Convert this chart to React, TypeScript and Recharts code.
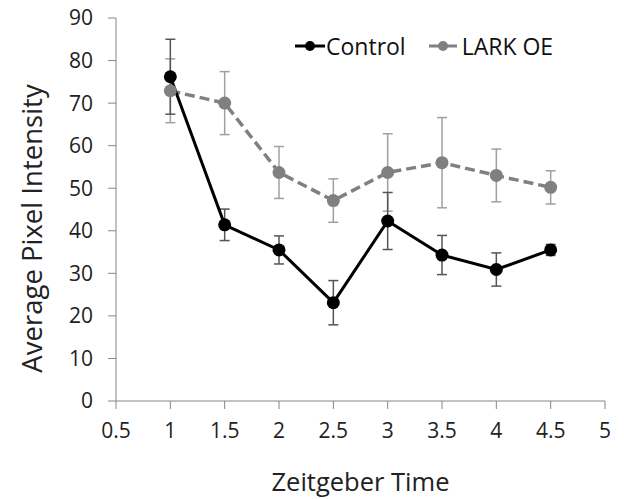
import React from 'react';
import {
  LineChart,
  Line,
  XAxis,
  YAxis,
  ErrorBar,
} from 'recharts';

const times = [1, 1.5, 2, 2.5, 3, 3.5, 4, 4.5];
const control = [76.2, 41.4, 35.5, 23.1, 42.3, 34.3, 30.9, 35.5];
const controlErr = [8.8, 3.7, 3.3, 5.2, 6.7, 4.6, 3.9, 1.3];
const lark = [72.9, 70.0, 53.7, 47.1, 53.7, 56.0, 53.0, 50.2];
const larkErr = [7.5, 7.4, 6.1, 5.1, 9.1, 10.6, 6.2, 3.9];

const xTicks = [0.5, 1, 1.5, 2, 2.5, 3, 3.5, 4, 4.5, 5];
const yTicks = [0, 10, 20, 30, 40, 50, 60, 70, 80, 90];

const data = times.map((t, i) => ({
  t,
  control: control[i],
  controlErr: controlErr[i],
  lark: lark[i],
  larkErr: larkErr[i],
}));

const FONT = '"Open Sans", sans-serif';
const AXIS = '#868686';

// legend drawn as an overlay so it doesn't shrink the plot area
const ChartLegend = () => (
  <div
    style={{
      position: 'absolute',
      left: 294,
      top: 30,
      display: 'flex',
      alignItems: 'center',
      fontFamily: FONT,
      fontSize: 23,
      color: '#111',
      whiteSpace: 'nowrap',
    }}
  >
    <svg width={32} height={14}>
      <line x1={1} y1={7} x2={31} y2={7} stroke="#000" strokeWidth={3} />
      <circle cx={16} cy={7} r={5} fill="#000" />
    </svg>
    <span style={{ marginRight: 22 }}>Control</span>
    <svg width={30} height={14}>
      <line x1={1} y1={7} x2={29} y2={7} stroke="#808080" strokeWidth={3} />
      <circle cx={15} cy={7} r={5} fill="#808080" />
    </svg>
    <span style={{ marginLeft: 4 }}>LARK OE</span>
  </div>
);

const YTitle = ({ viewBox }: any) => {
  const x = viewBox.x + 31;
  const y = viewBox.y + viewBox.height / 2 + 19;
  return (
    <text
      x={x}
      y={y}
      transform={`rotate(-90, ${x}, ${y})`}
      textAnchor="middle"
      dominantBaseline="central"
      fill="#222"
      fontSize={27.5}
      fontFamily={FONT}
    >
      Average Pixel Intensity
    </text>
  );
};

export default function App() {
  return (
    <div style={{ position: 'absolute', left: 0, top: 0, width: 624, height: 499, background: '#fff' }}>
      <LineChart width={624} height={499} data={data} margin={{ top: 18, right: 19, bottom: 0, left: 0 }}>
        <XAxis
          dataKey="t"
          type="number"
          domain={[0.5, 5]}
          ticks={xTicks}
          interval={0}
          height={98}
          stroke={AXIS}
          tickSize={8}
          tickMargin={14}
          tick={{ fill: '#222', fontSize: 21, fontFamily: FONT }}
          label={{ value: 'Zeitgeber  Time', position: 'insideBottom', offset: 8, style: { fill: '#222', fontSize: 25.5, fontFamily: FONT } }}
        />
        <YAxis
          type="number"
          domain={[0, 90]}
          ticks={yTicks}
          interval={0}
          width={116}
          stroke={AXIS}
          tickSize={8}
          tickMargin={15}
          tick={{ fill: '#222', fontSize: 21, fontFamily: FONT }}
          label={<YTitle />}
        />
        <Line
          dataKey="lark"
          stroke="#808080"
          strokeWidth={3.5}
          strokeDasharray="10 5"
          dot={{ r: 6.5, fill: '#808080', stroke: '#808080', strokeWidth: 0 }}
          isAnimationActive={false}
        >
          <ErrorBar dataKey="larkErr" direction="y" width={5} stroke="#a0a0a0" strokeWidth={1.5} />
        </Line>
        <Line
          dataKey="control"
          stroke="#000"
          strokeWidth={3}
          dot={{ r: 6.5, fill: '#000', stroke: '#000', strokeWidth: 0 }}
          isAnimationActive={false}
        >
          <ErrorBar dataKey="controlErr" direction="y" width={5} stroke="#555" strokeWidth={1.5} />
        </Line>
      </LineChart>
      <ChartLegend />
    </div>
  );
}
